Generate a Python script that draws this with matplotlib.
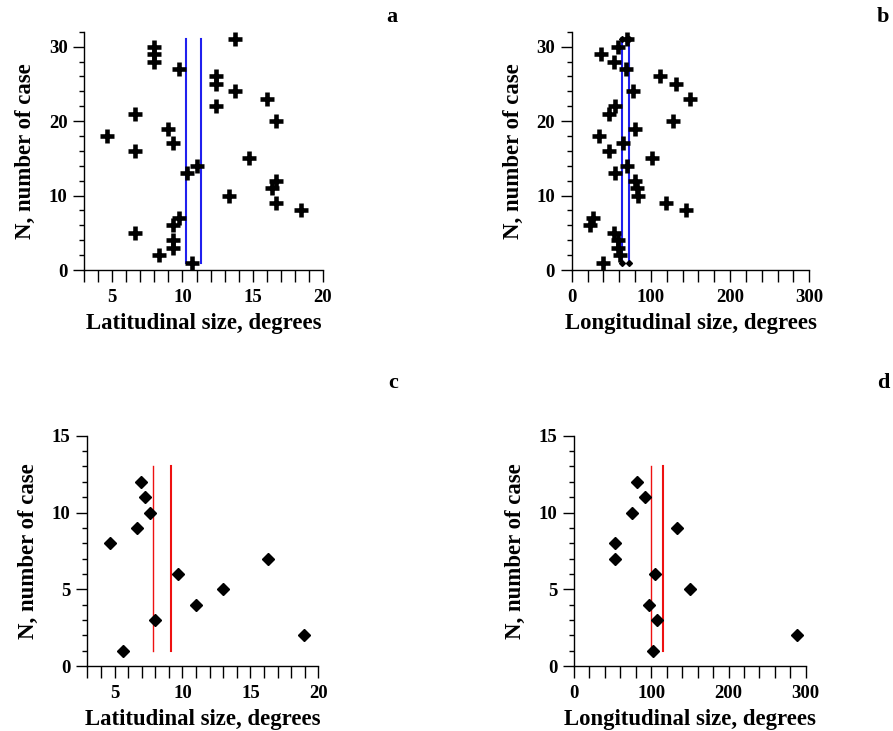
import matplotlib.pyplot as plt
import numpy as np
from matplotlib.ticker import MultipleLocator

plt.rcParams['font.family'] = ['Liberation Serif', 'DejaVu Serif']
plt.rcParams['font.weight'] = 'bold'

# panel a / b: 31 cases
n_all = np.arange(1, 32)
lat_all = [10.68, 8.36, 9.32, 9.32, 6.63, 9.32, 9.72, 18.43, 16.7, 13.35,
           16.4, 16.7, 10.35, 11.0, 14.71, 6.63, 9.32, 4.64, 9.0, 16.7,
           6.63, 12.4, 16.03, 13.75, 12.4, 12.39, 9.72, 8.0, 8.0, 8.0, 13.75]
lon_all = [40.0, 61.1, 59.0, 59.0, 53.5, 23.2, 26.5, 144.1, 118.8, 84.3,
           82.2, 80.1, 54.4, 69.5, 101.1, 47.2, 64.5, 34.6, 80.1, 127.7,
           47.6, 54.8, 149.6, 77.1, 131.9, 111.7, 68.3, 53.5, 37.1, 58.2, 70.4]
lat_all_lines = [10.28, 11.3]
lon_all_lines = [64.0, 72.9]

# panel c / d: 12 cases
n_sub = np.arange(1, 13)
lat_sub = [5.63, 18.97, 7.96, 10.98, 13.0, 9.68, 16.31, 4.64, 6.66, 7.64, 7.27, 6.98]
lon_sub = [102.7, 288.3, 107.0, 97.1, 150.2, 104.9, 53.1, 53.1, 133.8, 74.7, 91.5, 81.1]
lat_sub_lines = [7.84, 9.19]
lon_sub_lines = [100.1, 114.8]

fig = plt.figure(figsize=(8.93, 7.31), dpi=100)

def style_axes(ax, xlim, xmaj, xmin, ylim, ymaj, ymin, xlabel):
  ax.set_xlim(*xlim)
  ax.set_ylim(*ylim)
  ax.xaxis.set_major_locator(MultipleLocator(xmaj))
  ax.xaxis.set_minor_locator(MultipleLocator(xmin))
  ax.yaxis.set_major_locator(MultipleLocator(ymaj))
  ax.yaxis.set_minor_locator(MultipleLocator(ymin))
  ax.spines['top'].set_visible(False)
  ax.spines['right'].set_visible(False)
  for s in ['left', 'bottom']:
    ax.spines[s].set_linewidth(1.0)
  ax.tick_params(axis='y', which='major', direction='out', length=8, width=1, labelsize=13.5, pad=4)
  ax.tick_params(axis='y', which='minor', direction='out', length=3.5, width=1)
  ax.tick_params(axis='x', which='both', direction='out', length=8.5, width=1, labelsize=13.5, pad=5)
  ax.set_xlabel(xlabel, fontsize=16.4, fontweight='bold', labelpad=5)
  ax.set_ylabel("N, number of case", fontsize=16.4, fontweight='bold', labelpad=9)
  for lab in ax.get_xticklabels() + ax.get_yticklabels():
    lab.set_fontweight('bold')

# a
ax = fig.add_axes([0.0944, 0.6306, 0.267, 0.326])
for xv in lat_all_lines:
  ax.plot([xv, xv], [1, 31], color='#2020ee', lw=1.5, zorder=1)
ax.plot(lat_all, n_all, linestyle='none', marker='+', ms=10.5, mew=3.3, color='black', zorder=2)
style_axes(ax, (3, 20), 5, 1, (0, 32), 10, 2, "Latitudinal size, degrees")

# b
ax = fig.add_axes([0.6402, 0.6306, 0.266, 0.326])
for xv in lon_all_lines:
  ax.plot([xv, xv], [1, 31], color='#2020ee', lw=1.5, zorder=1,
          marker='D', ms=3, mfc='black', mec='black')
ax.plot(lon_all, n_all, linestyle='none', marker='+', ms=10.5, mew=3.3, color='black', zorder=2)
style_axes(ax, (0, 300), 100, 20, (0, 32), 10, 2, "Longitudinal size, degrees")

# c
ax = fig.add_axes([0.0978, 0.0889, 0.2587, 0.315])
ax.plot([lat_sub_lines[0]] * 2, [1, 13], color='#ee1111', lw=1.0, zorder=1)
ax.plot([lat_sub_lines[1]] * 2, [1, 13], color='#ee1111', lw=1.5, zorder=1)
ax.plot(lat_sub, n_sub, linestyle='none', marker='D', ms=6.5, color='black', zorder=2)
style_axes(ax, (3, 20), 5, 1, (0, 15), 5, 1, "Latitudinal size, degrees")

# d
ax = fig.add_axes([0.6428, 0.0889, 0.2595, 0.315])
ax.plot([lon_sub_lines[0]] * 2, [1, 13], color='#ee1111', lw=1.0, zorder=1)
ax.plot([lon_sub_lines[1]] * 2, [1, 13], color='#ee1111', lw=1.5, zorder=1)
ax.plot(lon_sub, n_sub, linestyle='none', marker='D', ms=6.5, color='black', zorder=2)
style_axes(ax, (0, 300), 100, 20, (0, 15), 5, 1, "Longitudinal size, degrees")

# panel letters
for letter, xp, yp in [('a', 392, 17), ('b', 883, 17), ('c', 393, 383), ('d', 883, 383)]:
  fig.text(xp / 893, 1 - yp / 731, letter, fontsize=16, fontweight='bold',
           ha='center', va='center')

fig.savefig("out.png", dpi=100)
